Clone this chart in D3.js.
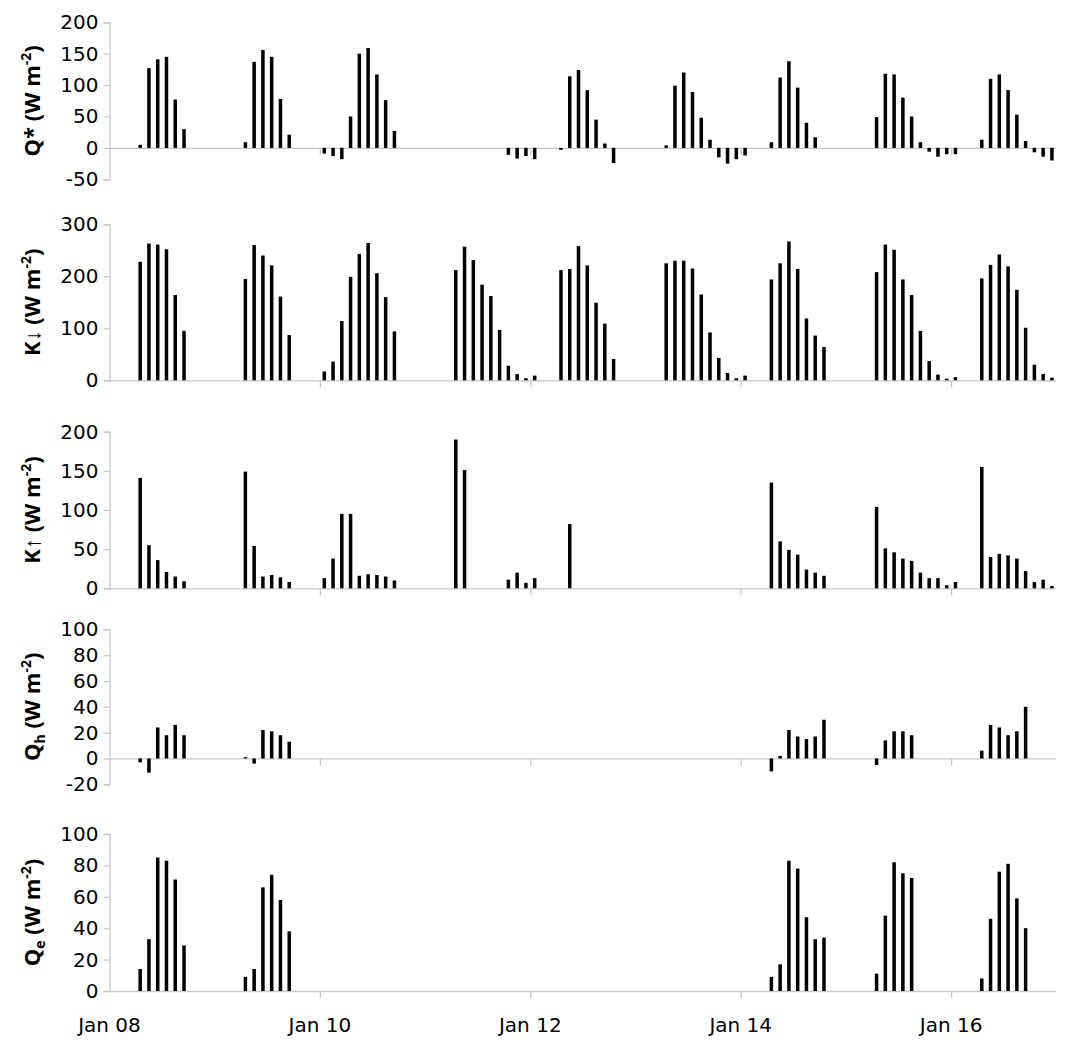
<!DOCTYPE html>
<html>
<head>
<meta charset="utf-8">
<script src="https://cdn.jsdelivr.net/npm/d3@7"></script>
<style>
  body { margin: 0; background: #fff; }
  .tick-label { font-family: "DejaVu Sans", sans-serif; font-size: 20px; fill: #000; }
  .axis-title { font-family: "Open Sans", sans-serif; font-weight: bold; font-size: 22px; fill: #000; }
</style>
</head>
<body>
<svg id="chart" width="1070" height="1045"></svg>
<script>
// 2-hourly values, each run is [start time, values...]
const qstar = [
    ["2013-01-08T07:00", [5, 127, 141, 145, 77, 30]],
    ["2013-01-09T07:00", [9, 137, 156, 145, 78, 21]],
    ["2013-01-10T01:00", [-9, -13, -18, 50, 150, 159, 117, 76, 27]],
    ["2013-01-11T19:00", [-11, -17, -13, -18]],
    ["2013-01-12T07:00", [-3, 114, 124, 92, 45, 7, -24]],
    ["2013-01-13T07:00", [4, 99, 120, 89, 48, 13, -15, -25, -18, -12]],
    ["2013-01-14T07:00", [9, 112, 138, 96, 40, 17]],
    ["2013-01-15T07:00", [49, 118, 117, 80, 50, 9, -6, -14, -10, -10]],
    ["2013-01-16T07:00", [13, 110, 117, 92, 53, 11, -7, -14, -20]]
];

const kdown = [
    ["2013-01-08T07:00", [228, 263, 261, 252, 164, 95]],
    ["2013-01-09T07:00", [195, 260, 240, 221, 161, 87]],
    ["2013-01-10T01:00", [17, 36, 114, 199, 243, 264, 206, 160, 94]],
    ["2013-01-11T07:00", [212, 257, 231, 184, 162, 97, 28, 12, 4, 9]],
    ["2013-01-12T07:00", [212, 214, 258, 221, 149, 109, 41]],
    ["2013-01-13T07:00", [225, 230, 230, 215, 165, 92, 43, 14, 4, 9]],
    ["2013-01-14T07:00", [194, 225, 267, 214, 119, 86, 64]],
    ["2013-01-15T07:00", [208, 261, 251, 194, 164, 95, 37, 11, 3, 6]],
    ["2013-01-16T07:00", [196, 222, 242, 219, 174, 101, 30, 12, 5]]
];

const kup = [
    ["2013-01-08T07:00", [141, 55, 36, 21, 15, 9]],
    ["2013-01-09T07:00", [149, 54, 15, 17, 14, 8]],
    ["2013-01-10T01:00", [13, 38, 95, 95, 16, 18, 17, 15, 10]],
    ["2013-01-11T07:00", [190, 151]],
    ["2013-01-11T19:00", [11, 20, 7, 13]],
    ["2013-01-12T09:00", [82]],
    ["2013-01-14T07:00", [135, 60, 49, 43, 24, 20, 16]],
    ["2013-01-15T07:00", [104, 51, 46, 38, 35, 20, 13, 13, 4, 8]],
    ["2013-01-16T07:00", [155, 40, 44, 42, 38, 22, 8, 11, 3]]
];

const qh = [
    ["2013-01-08T07:00", [-3, -11, 24, 18, 26, 18]],
    ["2013-01-09T07:00", [1, -4, 22, 21, 18, 13]],
    ["2013-01-14T07:00", [-10, 2, 22, 17, 15, 17, 30]],
    ["2013-01-15T07:00", [-5, 14, 21, 21, 18]],
    ["2013-01-16T07:00", [6, 26, 24, 18, 21, 40]]
];

const qe = [
    ["2013-01-08T07:00", [14, 33, 85, 83, 71, 29]],
    ["2013-01-09T07:00", [9, 14, 66, 74, 58, 38]],
    ["2013-01-14T07:00", [9, 17, 83, 78, 47, 33, 34]],
    ["2013-01-15T07:00", [11, 48, 82, 75, 72]],
    ["2013-01-16T07:00", [8, 46, 76, 81, 59, 40]]
];

const qstarTicks = [-50, 0, 50, 100, 150, 200];
const kdownTicks = [0, 100, 200, 300];
const kupTicks = [0, 50, 100, 150, 200];
const qhTicks = [-20, 0, 20, 40, 60, 80, 100];
const qeTicks = [0, 20, 40, 60, 80, 100];

const panels = [
    {runs: qstar, ticks: qstarTicks, y0: 179.3, y1: 22.3, sym: "Q*", sub: ""},
    {runs: kdown, ticks: kdownTicks, y0: 380.3, y1: 224.3, sym: "K\u2193", sub: ""},
    {runs: kup, ticks: kupTicks, y0: 588.3, y1: 431.7, sym: "K\u2191", sub: ""},
    {runs: qh, ticks: qhTicks, y0: 784.3, y1: 629.3, sym: "Q", sub: "h"},
    {runs: qe, ticks: qeTicks, y0: 991, y1: 834, sym: "Q", sub: "e"}
];

const svg = d3.select('#chart');
const parse = d3.timeParse('%Y-%m-%dT%H:%M');
const axisColor = '#c8c8c8';
const barW = 3.5;

const x = d3.scaleTime()
    .domain([new Date(2013, 0, 8), new Date(2013, 0, 17)])
    .range([109.5, 1056.3]);
const xTicks = d3.timeDay.range(new Date(2013, 0, 8), new Date(2013, 0, 17), 2);

panels.forEach(function (p, idx) {
    const y = d3.scaleLinear()
        .domain(d3.extent(p.ticks))
        .range([p.y0, p.y1]);
    const g = svg.append('g');

    // flatten runs into bars
    const bars = [];
    p.runs.forEach(function (r) {
        const t0 = parse(r[0]);
        r[1].forEach(function (v, i) {
            bars.push({t: d3.timeHour.offset(t0, 2 * i), v: v});
        });
    });

    // y axis (plain hyphen for negatives, like the original)
    const yAxis = d3.axisLeft(y).tickValues(p.ticks).tickSize(6).tickPadding(5)
        .tickFormat(d => String(d));
    const ya = g.append('g')
        .attr('transform', 'translate(' + x.range()[0] + ',0)')
        .call(yAxis);
    ya.select('.domain').attr('stroke', axisColor).attr('stroke-width', 1.3);
    ya.selectAll('.tick line').attr('stroke', axisColor).attr('stroke-width', 1.3);
    ya.selectAll('.tick text').attr('class', 'tick-label').attr('font-family', null).attr('font-size', null);

    // x axis at zero
    const xAxis = d3.axisBottom(x).tickValues(xTicks.slice(1)).tickSize(7).tickFormat('');
    const xa = g.append('g')
        .attr('transform', 'translate(0,' + y(0) + ')')
        .call(xAxis);
    xa.select('.domain').attr('stroke', axisColor).attr('stroke-width', 1.3)
        .attr('d', 'M' + x.range()[0] + ',0.5H' + x.range()[1]);
    xa.selectAll('.tick line').attr('stroke', axisColor).attr('stroke-width', 1.3);

    // bars
    g.selectAll('rect.bar')
        .data(bars)
        .enter()
        .append('rect')
        .attr('class', 'bar')
        .attr('x', d => x(d.t) - barW / 2)
        .attr('y', d => y(Math.max(0, d.v)))
        .attr('width', barW)
        .attr('height', d => Math.abs(y(d.v) - y(0)))
        .attr('fill', '#000');

    // axis title
    const cy = (p.y0 + p.y1) / 2;
    const title = g.append('text')
        .attr('class', 'axis-title')
        .attr('text-anchor', 'middle')
        .attr('transform', 'translate(40,' + cy + ') rotate(-90)');
    title.append('tspan').text(p.sym);
    if (p.sub) {
        title.append('tspan').attr('font-size', 14).attr('dy', 5).text(p.sub);
        title.append('tspan').attr('dy', -5).text(' (W m');
    } else {
        title.append('tspan').text(' (W m');
    }
    title.append('tspan').attr('font-size', 14).attr('dy', -9).text('-2');
    title.append('tspan').attr('dy', 9).text(')');

    // date labels under the last panel
    if (idx === panels.length - 1) {
        g.selectAll('text.date')
            .data(xTicks)
            .enter()
            .append('text')
            .attr('class', 'tick-label date')
            .attr('x', d => x(d))
            .attr('y', 1032)
            .attr('text-anchor', 'middle')
            .text(d3.timeFormat('%b %d'));
    }
});
</script>
</body>
</html>
